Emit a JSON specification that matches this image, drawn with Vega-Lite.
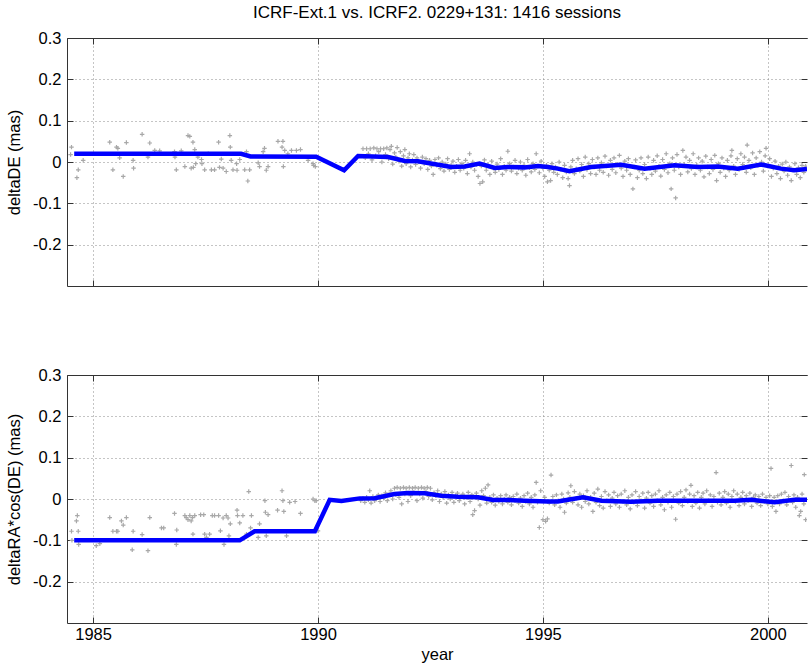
{
  "$schema": "https://vega.github.io/schema/vega-lite/v6.json",
  "background": "white",
  "padding": {"left": 6, "top": 4, "right": 0, "bottom": 0},
  "spacing": 80,
  "config": {
    "view": {"stroke": null},
    "font": "Liberation Sans",
    "axis": {
      "labelFont": "Liberation Sans", "labelFontSize": 16.5, "labelColor": "#000",
      "titleFont": "Liberation Sans", "titleFontSize": 16.5, "titleFontWeight": "normal", "titleColor": "#000",
      "domainColor": "#333", "tickColor": "#333", "gridColor": "#8a8a8a", "gridDash": [1, 3], "gridOpacity": 1,
      "domainWidth": 1, "tickWidth": 1
    }
  },
  "datasets": {
    "dePts": [
      {"year":1984.52,"d":0.036},{"year":1984.5,"d":0.018},{"year":1984.67,"d":-0.019},{"year":1984.64,"d":-0.038},{"year":1984.78,"d":0.004},
      {"year":1985.37,"d":0.048},{"year":1985.44,"d":-0.019},{"year":1985.52,"d":0.036},{"year":1985.55,"d":0.033},{"year":1985.59,"d":0.01},
      {"year":1985.67,"d":-0.035},{"year":1985.74,"d":0.047},{"year":1985.89,"d":0.004},{"year":1985.9,"d":-0.015},{"year":1986.09,"d":0.067},
      {"year":1986.22,"d":0.012},{"year":1986.26,"d":0.046},{"year":1986.37,"d":0.028},{"year":1986.48,"d":0.027},{"year":1986.81,"d":0.025},
      {"year":1986.85,"d":-0.019},{"year":1986.82,"d":0.012},{"year":1986.96,"d":0.027},{"year":1987.04,"d":-0.011},{"year":1987.11,"d":0.064},
      {"year":1987.15,"d":0.062},{"year":1987.18,"d":-0.015},{"year":1987.22,"d":0.048},{"year":1987.23,"d":-0.013},{"year":1987.26,"d":0.03},
      {"year":1987.28,"d":-0.004},{"year":1987.33,"d":0.012},{"year":1987.41,"d":0.006},{"year":1987.42,"d":-0.004},{"year":1987.48,"d":-0.019},
      {"year":1987.56,"d":0.02},{"year":1987.63,"d":-0.019},{"year":1987.7,"d":-0.019},{"year":1987.79,"d":0.048},{"year":1987.81,"d":-0.013},
      {"year":1987.85,"d":0.007},{"year":1987.89,"d":-0.015},{"year":1987.96,"d":-0.023},{"year":1988.04,"d":0.064},{"year":1988.05,"d":0.036},
      {"year":1988.07,"d":0.004},{"year":1988.11,"d":-0.019},{"year":1988.19,"d":-0.004},{"year":1988.2,"d":-0.02},{"year":1988.26,"d":0.006},
      {"year":1988.37,"d":-0.019},{"year":1988.41,"d":0.025},{"year":1988.44,"d":-0.046},{"year":1988.48,"d":-0.019},{"year":1988.67,"d":-0.002},
      {"year":1988.7,"d":-0.011},{"year":1988.78,"d":0.025},{"year":1988.81,"d":0.033},{"year":1988.85,"d":-0.02},{"year":1988.89,"d":-0.011},
      {"year":1989.11,"d":0.05},{"year":1989.2,"d":0.036},{"year":1989.22,"d":0.05},{"year":1989.26,"d":0.028},{"year":1989.23,"d":-0.011},
      {"year":1989.33,"d":0.02},{"year":1989.41,"d":0.028},{"year":1989.52,"d":0.028},{"year":1989.61,"d":0.03},{"year":1989.78,"d":0.004},
      {"year":1989.89,"d":-0.004},{"year":1989.94,"d":-0.011},{"year":1989.9,"d":-0.008},
      {"year":1991.0,"d":0.032},{"year":1991.05,"d":0.01},{"year":1991.08,"d":0.032},{"year":1991.12,"d":0.02},{"year":1991.16,"d":0.032},
      {"year":1991.2,"d":0.005},{"year":1991.24,"d":0.034},{"year":1991.28,"d":0.015},{"year":1991.31,"d":0.032},{"year":1991.35,"d":0.025},
      {"year":1991.39,"d":0.032},{"year":1991.42,"d":0.0},{"year":1991.46,"d":0.032},{"year":1991.5,"d":0.018},{"year":1991.53,"d":0.034},
      {"year":1991.57,"d":0.008},{"year":1991.6,"d":0.03},{"year":1991.63,"d":0.038},{"year":1991.66,"d":-0.005},{"year":1991.7,"d":0.022},
      {"year":1991.73,"d":0.012},{"year":1991.76,"d":0.035},{"year":1991.8,"d":0.002},{"year":1991.83,"d":0.025},{"year":1991.86,"d":-0.01},
      {"year":1991.9,"d":0.015},{"year":1991.93,"d":0.03},{"year":1991.96,"d":-0.004},{"year":1992.0,"d":0.01},{"year":1992.03,"d":0.02},
      {"year":1992.06,"d":-0.012},{"year":1992.1,"d":0.005},{"year":1992.13,"d":0.018},{"year":1992.17,"d":-0.006},{"year":1992.2,"d":0.01},
      {"year":1992.24,"d":0.0},{"year":1992.28,"d":-0.015},{"year":1992.32,"d":0.012},{"year":1992.36,"d":-0.004},{"year":1992.4,"d":0.008},
      {"year":1992.44,"d":-0.018},{"year":1992.48,"d":0.004},{"year":1992.52,"d":-0.01},{"year":1992.56,"d":-0.03},{"year":1992.6,"d":0.006},
      {"year":1992.64,"d":-0.008},{"year":1992.68,"d":0.01},{"year":1992.72,"d":-0.016},{"year":1992.76,"d":0.0},{"year":1992.8,"d":-0.022},
      {"year":1992.84,"d":-0.005},{"year":1992.88,"d":0.008},{"year":1992.92,"d":-0.018},{"year":1992.96,"d":-0.008},{"year":1993.0,"d":0.002},
      {"year":1993.04,"d":-0.025},{"year":1993.08,"d":-0.01},{"year":1993.12,"d":0.006},{"year":1993.16,"d":-0.02},{"year":1993.2,"d":-0.004},
      {"year":1993.24,"d":-0.015},{"year":1993.28,"d":0.004},{"year":1993.32,"d":-0.028},{"year":1993.37,"d":0.02},{"year":1993.4,"d":-0.012},
      {"year":1993.44,"d":0.0},{"year":1993.48,"d":-0.02},{"year":1993.52,"d":-0.006},{"year":1993.56,"d":-0.035},{"year":1993.6,"d":-0.052},
      {"year":1993.63,"d":-0.01},{"year":1993.66,"d":-0.048},{"year":1993.7,"d":0.005},{"year":1993.74,"d":-0.02},{"year":1993.78,"d":-0.008},
      {"year":1993.82,"d":-0.03},{"year":1993.86,"d":0.002},{"year":1993.9,"d":-0.015},{"year":1993.94,"d":-0.025},{"year":1993.98,"d":-0.005},
      {"year":1994.02,"d":-0.018},{"year":1994.06,"d":0.008},{"year":1994.1,"d":-0.03},{"year":1994.14,"d":-0.01},{"year":1994.18,"d":-0.02},
      {"year":1994.22,"d":0.026},{"year":1994.26,"d":-0.004},{"year":1994.3,"d":-0.022},{"year":1994.34,"d":-0.012},{"year":1994.38,"d":0.004},
      {"year":1994.42,"d":-0.028},{"year":1994.46,"d":-0.015},{"year":1994.5,"d":0.0},{"year":1994.54,"d":-0.02},{"year":1994.58,"d":-0.008},
      {"year":1994.62,"d":-0.032},{"year":1994.66,"d":0.006},{"year":1994.7,"d":-0.014},{"year":1994.74,"d":-0.024},{"year":1994.78,"d":-0.004},
      {"year":1994.82,"d":-0.018},{"year":1994.85,"d":0.02},{"year":1994.88,"d":-0.01},{"year":1994.92,"d":-0.026},{"year":1994.96,"d":0.002},
      {"year":1995.0,"d":-0.015},{"year":1995.04,"d":-0.035},{"year":1995.08,"d":-0.008},{"year":1995.1,"d":-0.048},{"year":1995.14,"d":-0.02},
      {"year":1995.17,"d":-0.045},{"year":1995.2,"d":-0.004},{"year":1995.24,"d":-0.025},{"year":1995.28,"d":-0.012},{"year":1995.32,"d":-0.03},
      {"year":1995.36,"d":0.0},{"year":1995.4,"d":-0.018},{"year":1995.44,"d":-0.038},{"year":1995.48,"d":-0.008},{"year":1995.52,"d":-0.024},
      {"year":1995.56,"d":-0.04},{"year":1995.59,"d":-0.057},{"year":1995.62,"d":-0.012},{"year":1995.66,"d":0.004},{"year":1995.7,"d":-0.028},
      {"year":1995.74,"d":-0.016},{"year":1995.78,"d":0.008},{"year":1995.82,"d":-0.022},{"year":1995.86,"d":-0.006},{"year":1995.9,"d":-0.035},
      {"year":1995.94,"d":0.012},{"year":1995.98,"d":-0.018},{"year":1996.02,"d":-0.004},{"year":1996.06,"d":-0.028},{"year":1996.1,"d":0.006},
      {"year":1996.14,"d":-0.012},{"year":1996.18,"d":-0.03},{"year":1996.22,"d":0.01},{"year":1996.26,"d":-0.02},{"year":1996.3,"d":-0.002},
      {"year":1996.34,"d":-0.025},{"year":1996.38,"d":0.014},{"year":1996.42,"d":-0.01},{"year":1996.46,"d":-0.032},{"year":1996.5,"d":0.004},
      {"year":1996.54,"d":-0.018},{"year":1996.58,"d":0.01},{"year":1996.62,"d":-0.026},{"year":1996.66,"d":-0.006},{"year":1996.7,"d":0.016},
      {"year":1996.74,"d":-0.015},{"year":1996.78,"d":-0.035},{"year":1996.82,"d":0.002},{"year":1996.86,"d":-0.02},{"year":1996.9,"d":0.008},
      {"year":1996.94,"d":-0.03},{"year":1997.0,"d":-0.065},{"year":1997.03,"d":-0.012},{"year":1997.06,"d":0.005},{"year":1997.1,"d":-0.038},
      {"year":1997.14,"d":-0.02},{"year":1997.18,"d":0.01},{"year":1997.22,"d":-0.028},{"year":1997.26,"d":-0.006},{"year":1997.3,"d":-0.04},
      {"year":1997.34,"d":0.012},{"year":1997.38,"d":-0.016},{"year":1997.42,"d":-0.03},{"year":1997.46,"d":0.004},{"year":1997.5,"d":-0.022},
      {"year":1997.54,"d":0.015},{"year":1997.58,"d":-0.01},{"year":1997.62,"d":-0.034},{"year":1997.66,"d":0.006},{"year":1997.7,"d":-0.018},
      {"year":1997.74,"d":0.02},{"year":1997.78,"d":-0.026},{"year":1997.82,"d":-0.004},{"year":1997.85,"d":-0.065},{"year":1997.88,"d":0.01},
      {"year":1997.92,"d":-0.02},{"year":1997.95,"d":-0.087},{"year":1997.98,"d":0.018},{"year":1998.02,"d":-0.012},{"year":1998.06,"d":-0.03},
      {"year":1998.11,"d":0.028},{"year":1998.14,"d":-0.006},{"year":1998.18,"d":0.012},{"year":1998.22,"d":-0.024},{"year":1998.26,"d":0.004},
      {"year":1998.3,"d":-0.016},{"year":1998.34,"d":0.02},{"year":1998.38,"d":-0.03},{"year":1998.42,"d":-0.008},{"year":1998.46,"d":0.01},
      {"year":1998.5,"d":-0.02},{"year":1998.54,"d":0.002},{"year":1998.58,"d":-0.036},{"year":1998.62,"d":0.014},{"year":1998.66,"d":-0.012},
      {"year":1998.7,"d":-0.028},{"year":1998.74,"d":0.006},{"year":1998.78,"d":-0.018},{"year":1998.82,"d":0.016},{"year":1998.86,"d":-0.045},
      {"year":1998.9,"d":-0.004},{"year":1998.94,"d":-0.025},{"year":1998.98,"d":0.01},{"year":1999.02,"d":-0.015},{"year":1999.06,"d":-0.035},
      {"year":1999.1,"d":0.004},{"year":1999.14,"d":-0.02},{"year":1999.18,"d":0.015},{"year":1999.2,"d":0.028},{"year":1999.24,"d":-0.01},
      {"year":1999.28,"d":-0.03},{"year":1999.32,"d":0.008},{"year":1999.36,"d":-0.018},{"year":1999.4,"d":0.02},{"year":1999.44,"d":-0.006},
      {"year":1999.48,"d":0.012},{"year":1999.52,"d":-0.025},{"year":1999.54,"d":0.041},{"year":1999.58,"d":0.004},{"year":1999.62,"d":-0.014},
      {"year":1999.66,"d":0.022},{"year":1999.7,"d":-0.03},{"year":1999.74,"d":0.01},{"year":1999.78,"d":-0.008},{"year":1999.82,"d":0.025},
      {"year":1999.86,"d":0.0},{"year":1999.9,"d":-0.022},{"year":1999.94,"d":0.015},{"year":1999.96,"d":0.033},{"year":2000.0,"d":-0.01},
      {"year":2000.04,"d":0.008},{"year":2000.08,"d":-0.035},{"year":2000.12,"d":-0.015},{"year":2000.16,"d":0.002},{"year":2000.2,"d":-0.028},
      {"year":2000.24,"d":-0.01},{"year":2000.28,"d":-0.04},{"year":2000.32,"d":-0.005},{"year":2000.36,"d":-0.022},{"year":2000.4,"d":0.0},
      {"year":2000.44,"d":-0.032},{"year":2000.48,"d":-0.012},{"year":2000.52,"d":-0.045},{"year":2000.56,"d":-0.02},{"year":2000.6,"d":-0.004},
      {"year":2000.64,"d":-0.03},{"year":2000.68,"d":-0.014},{"year":2000.72,"d":-0.038},{"year":2000.76,"d":-0.008},{"year":2000.8,"d":-0.025},
      {"year":2000.84,"d":-0.01}
    ],
    "raPts": [
      {"year":1984.52,"d":-0.078},{"year":1984.53,"d":-0.1},{"year":1984.63,"d":-0.053},{"year":1984.65,"d":-0.04},{"year":1984.67,"d":-0.078},
      {"year":1984.68,"d":-0.11},{"year":1985.07,"d":-0.113},{"year":1985.15,"d":-0.108},{"year":1985.37,"d":-0.045},{"year":1985.44,"d":-0.078},
      {"year":1985.52,"d":-0.078},{"year":1985.55,"d":-0.078},{"year":1985.63,"d":-0.053},{"year":1985.67,"d":-0.063},{"year":1985.74,"d":-0.045},
      {"year":1985.87,"d":-0.123},{"year":1985.89,"d":-0.078},{"year":1986.09,"d":-0.086},{"year":1986.22,"d":-0.125},{"year":1986.26,"d":-0.045},
      {"year":1986.52,"d":-0.07},{"year":1986.57,"d":-0.07},{"year":1986.81,"d":-0.035},{"year":1986.85,"d":-0.11},{"year":1986.86,"d":-0.075},
      {"year":1987.04,"d":-0.04},{"year":1987.07,"d":-0.045},{"year":1987.11,"d":-0.05},{"year":1987.15,"d":-0.04},{"year":1987.18,"d":-0.053},
      {"year":1987.21,"d":-0.045},{"year":1987.26,"d":-0.04},{"year":1987.22,"d":-0.085},{"year":1987.39,"d":-0.038},{"year":1987.46,"d":-0.038},
      {"year":1987.48,"d":-0.085},{"year":1987.52,"d":-0.093},{"year":1987.59,"d":-0.085},{"year":1987.65,"d":-0.04},{"year":1987.7,"d":-0.04},
      {"year":1987.79,"d":-0.04},{"year":1987.83,"d":-0.077},{"year":1987.89,"d":-0.046},{"year":1987.91,"d":-0.11},{"year":1987.96,"d":-0.04},
      {"year":1988.0,"d":-0.046},{"year":1988.02,"d":-0.089},{"year":1988.05,"d":-0.06},{"year":1988.2,"d":-0.027},{"year":1988.21,"d":-0.04},
      {"year":1988.26,"d":-0.058},{"year":1988.33,"d":-0.04},{"year":1988.41,"d":-0.085},{"year":1988.46,"d":0.018},{"year":1988.52,"d":-0.04},
      {"year":1988.5,"d":-0.07},{"year":1988.67,"d":-0.093},{"year":1988.7,"d":-0.06},{"year":1988.82,"d":-0.004},{"year":1988.83,"d":-0.032},
      {"year":1988.85,"d":-0.089},{"year":1988.89,"d":-0.038},{"year":1989.1,"d":-0.027},{"year":1989.2,"d":0.02},{"year":1989.22,"d":-0.004},
      {"year":1989.24,"d":-0.03},{"year":1989.3,"d":-0.089},{"year":1989.37,"d":-0.008},{"year":1989.49,"d":-0.006},{"year":1989.61,"d":-0.035},
      {"year":1989.89,"d":0.0},{"year":1989.96,"d":-0.004},{"year":1989.93,"d":-0.004},{"year":1990.0,"d":-0.077},
      {"year":1990.95,"d":-0.004},{"year":1991.0,"d":0.002},{"year":1991.04,"d":-0.008},{"year":1991.08,"d":0.004},{"year":1991.12,"d":-0.002},
      {"year":1991.15,"d":0.02},{"year":1991.18,"d":-0.01},{"year":1991.22,"d":0.006},{"year":1991.26,"d":-0.004},{"year":1991.3,"d":0.0},
      {"year":1991.34,"d":0.01},{"year":1991.38,"d":-0.006},{"year":1991.42,"d":0.008},{"year":1991.46,"d":0.002},{"year":1991.5,"d":0.015},
      {"year":1991.54,"d":-0.004},{"year":1991.58,"d":0.012},{"year":1991.62,"d":0.02},{"year":1991.66,"d":0.0},{"year":1991.7,"d":0.026},
      {"year":1991.73,"d":0.01},{"year":1991.76,"d":0.028},{"year":1991.8,"d":0.004},{"year":1991.83,"d":0.026},{"year":1991.86,"d":-0.012},
      {"year":1991.9,"d":0.028},{"year":1991.93,"d":0.012},{"year":1991.96,"d":0.026},{"year":1992.0,"d":-0.006},{"year":1992.03,"d":0.028},
      {"year":1992.06,"d":0.008},{"year":1992.1,"d":0.026},{"year":1992.13,"d":0.016},{"year":1992.16,"d":0.028},{"year":1992.2,"d":-0.004},
      {"year":1992.23,"d":0.026},{"year":1992.26,"d":0.012},{"year":1992.3,"d":0.028},{"year":1992.33,"d":0.002},{"year":1992.36,"d":0.026},
      {"year":1992.4,"d":0.018},{"year":1992.43,"d":0.028},{"year":1992.46,"d":0.006},{"year":1992.5,"d":0.026},{"year":1992.54,"d":-0.002},
      {"year":1992.58,"d":0.015},{"year":1992.62,"d":0.008},{"year":1992.66,"d":0.02},{"year":1992.7,"d":-0.006},{"year":1992.74,"d":0.012},
      {"year":1992.78,"d":0.004},{"year":1992.82,"d":0.018},{"year":1992.86,"d":-0.01},{"year":1992.9,"d":0.01},{"year":1992.94,"d":0.0},
      {"year":1992.98,"d":0.016},{"year":1993.02,"d":-0.008},{"year":1993.06,"d":0.008},{"year":1993.1,"d":0.014},{"year":1993.14,"d":-0.004},
      {"year":1993.18,"d":0.006},{"year":1993.22,"d":0.012},{"year":1993.26,"d":-0.012},{"year":1993.3,"d":0.004},{"year":1993.34,"d":0.016},
      {"year":1993.38,"d":-0.006},{"year":1993.42,"d":0.01},{"year":1993.44,"d":-0.038},{"year":1993.48,"d":-0.028},{"year":1993.52,"d":0.014},
      {"year":1993.56,"d":0.0},{"year":1993.6,"d":-0.015},{"year":1993.64,"d":0.02},{"year":1993.68,"d":0.008},{"year":1993.72,"d":0.026},
      {"year":1993.75,"d":-0.01},{"year":1993.78,"d":0.034},{"year":1993.82,"d":0.004},{"year":1993.86,"d":-0.008},{"year":1993.9,"d":0.01},
      {"year":1993.94,"d":-0.015},{"year":1993.98,"d":0.002},{"year":1994.02,"d":-0.006},{"year":1994.06,"d":0.008},{"year":1994.1,"d":-0.012},
      {"year":1994.14,"d":0.0},{"year":1994.18,"d":0.01},{"year":1994.22,"d":-0.008},{"year":1994.26,"d":0.004},{"year":1994.3,"d":-0.014},
      {"year":1994.34,"d":0.006},{"year":1994.38,"d":-0.004},{"year":1994.42,"d":0.012},{"year":1994.46,"d":-0.01},{"year":1994.5,"d":0.002},
      {"year":1994.54,"d":-0.018},{"year":1994.58,"d":0.008},{"year":1994.62,"d":-0.006},{"year":1994.66,"d":0.014},{"year":1994.7,"d":-0.012},
      {"year":1994.74,"d":0.004},{"year":1994.78,"d":-0.02},{"year":1994.82,"d":0.01},{"year":1994.85,"d":0.04},{"year":1994.88,"d":-0.008},
      {"year":1994.92,"d":-0.069},{"year":1994.95,"d":0.02},{"year":1995.0,"d":-0.05},{"year":1995.04,"d":0.004},{"year":1995.06,"d":-0.054},
      {"year":1995.1,"d":-0.048},{"year":1995.14,"d":-0.01},{"year":1995.18,"d":0.058},{"year":1995.22,"d":0.006},{"year":1995.26,"d":-0.014},
      {"year":1995.3,"d":0.01},{"year":1995.34,"d":-0.004},{"year":1995.38,"d":-0.02},{"year":1995.42,"d":0.012},{"year":1995.46,"d":0.0},
      {"year":1995.48,"d":-0.032},{"year":1995.52,"d":-0.01},{"year":1995.56,"d":0.015},{"year":1995.6,"d":0.004},{"year":1995.62,"d":0.032},
      {"year":1995.66,"d":-0.008},{"year":1995.7,"d":0.018},{"year":1995.74,"d":0.002},{"year":1995.78,"d":-0.014},{"year":1995.82,"d":0.012},
      {"year":1995.86,"d":-0.02},{"year":1995.9,"d":0.008},{"year":1995.94,"d":-0.006},{"year":1995.98,"d":0.02},{"year":1996.02,"d":-0.012},
      {"year":1996.06,"d":0.004},{"year":1996.11,"d":-0.03},{"year":1996.14,"d":0.014},{"year":1996.18,"d":-0.008},{"year":1996.22,"d":0.024},
      {"year":1996.26,"d":-0.016},{"year":1996.3,"d":0.006},{"year":1996.34,"d":-0.022},{"year":1996.38,"d":0.018},{"year":1996.42,"d":-0.004},
      {"year":1996.46,"d":0.01},{"year":1996.5,"d":-0.018},{"year":1996.54,"d":0.002},{"year":1996.58,"d":0.016},{"year":1996.62,"d":-0.012},
      {"year":1996.66,"d":0.008},{"year":1996.7,"d":-0.02},{"year":1996.74,"d":0.012},{"year":1996.78,"d":-0.006},{"year":1996.82,"d":0.02},
      {"year":1996.86,"d":-0.014},{"year":1996.9,"d":0.004},{"year":1996.94,"d":-0.024},{"year":1996.98,"d":0.01},{"year":1997.02,"d":-0.008},
      {"year":1997.06,"d":0.018},{"year":1997.1,"d":-0.016},{"year":1997.14,"d":0.006},{"year":1997.18,"d":-0.004},{"year":1997.22,"d":0.014},
      {"year":1997.26,"d":-0.022},{"year":1997.3,"d":0.002},{"year":1997.34,"d":0.016},{"year":1997.38,"d":-0.01},{"year":1997.42,"d":0.008},
      {"year":1997.46,"d":-0.018},{"year":1997.5,"d":0.012},{"year":1997.54,"d":-0.004},{"year":1997.58,"d":0.02},{"year":1997.62,"d":-0.014},
      {"year":1997.66,"d":0.004},{"year":1997.7,"d":-0.026},{"year":1997.74,"d":0.01},{"year":1997.78,"d":-0.008},{"year":1997.82,"d":0.016},
      {"year":1997.86,"d":-0.02},{"year":1997.9,"d":0.006},{"year":1997.95,"d":-0.049},{"year":1997.98,"d":0.012},{"year":1998.02,"d":-0.01},
      {"year":1998.06,"d":0.018},{"year":1998.1,"d":-0.016},{"year":1998.14,"d":0.004},{"year":1998.18,"d":0.022},{"year":1998.22,"d":-0.006},
      {"year":1998.26,"d":0.012},{"year":1998.29,"d":0.033},{"year":1998.32,"d":-0.018},{"year":1998.36,"d":0.008},{"year":1998.4,"d":-0.01},
      {"year":1998.44,"d":0.016},{"year":1998.48,"d":-0.022},{"year":1998.52,"d":0.004},{"year":1998.56,"d":0.014},{"year":1998.6,"d":-0.012},
      {"year":1998.64,"d":0.02},{"year":1998.68,"d":-0.004},{"year":1998.72,"d":0.01},{"year":1998.76,"d":-0.018},{"year":1998.8,"d":0.006},
      {"year":1998.85,"d":0.064},{"year":1998.88,"d":-0.008},{"year":1998.92,"d":0.014},{"year":1998.96,"d":-0.014},{"year":1999.0,"d":0.004},
      {"year":1999.04,"d":0.018},{"year":1999.08,"d":-0.01},{"year":1999.12,"d":0.012},{"year":1999.16,"d":-0.02},{"year":1999.2,"d":0.006},
      {"year":1999.24,"d":0.02},{"year":1999.28,"d":-0.006},{"year":1999.32,"d":0.012},{"year":1999.36,"d":-0.016},{"year":1999.4,"d":0.004},
      {"year":1999.44,"d":0.016},{"year":1999.48,"d":-0.012},{"year":1999.52,"d":0.008},{"year":1999.56,"d":-0.004},{"year":1999.6,"d":0.014},
      {"year":1999.64,"d":-0.018},{"year":1999.68,"d":0.004},{"year":1999.72,"d":0.01},{"year":1999.76,"d":-0.01},{"year":1999.8,"d":0.006},
      {"year":1999.84,"d":-0.016},{"year":1999.88,"d":0.012},{"year":1999.92,"d":-0.006},{"year":1999.96,"d":0.004},{"year":2000.0,"d":-0.012},
      {"year":2000.04,"d":0.008},{"year":2000.07,"d":0.074},{"year":2000.1,"d":-0.018},{"year":2000.14,"d":0.004},{"year":2000.18,"d":-0.03},
      {"year":2000.22,"d":0.008},{"year":2000.26,"d":-0.012},{"year":2000.3,"d":0.012},{"year":2000.34,"d":-0.004},{"year":2000.38,"d":0.016},
      {"year":2000.42,"d":-0.014},{"year":2000.46,"d":0.006},{"year":2000.52,"d":0.081},{"year":2000.55,"d":-0.008},{"year":2000.58,"d":0.01},
      {"year":2000.62,"d":-0.02},{"year":2000.66,"d":0.004},{"year":2000.7,"d":-0.04},{"year":2000.73,"d":-0.03},{"year":2000.76,"d":0.012},
      {"year":2000.8,"d":-0.012},{"year":2000.81,"d":0.059},{"year":2000.84,"d":-0.05}
    ],
    "deLine": [
      {"year":1984.58,"d":0.02},{"year":1988.29,"d":0.02},{"year":1988.5,"d":0.0136},{"year":1989.96,"d":0.013},{"year":1990.58,"d":-0.02},
      {"year":1990.89,"d":0.0145},{"year":1991.56,"d":0.012},{"year":1991.93,"d":0.0024},{"year":1992.22,"d":0.002},{"year":1992.96,"d":-0.012},
      {"year":1993.26,"d":-0.011},{"year":1993.59,"d":-0.004},{"year":1993.93,"d":-0.0145},{"year":1994.22,"d":-0.012},{"year":1994.59,"d":-0.013},
      {"year":1994.89,"d":-0.0097},{"year":1995.11,"d":-0.012},{"year":1995.33,"d":-0.016},{"year":1995.59,"d":-0.022},{"year":1996.07,"d":-0.012},
      {"year":1996.74,"d":-0.0065},{"year":1997.26,"d":-0.016},{"year":1997.93,"d":-0.008},{"year":1998.44,"d":-0.012},{"year":1998.89,"d":-0.011},
      {"year":1999.33,"d":-0.016},{"year":1999.85,"d":-0.006},{"year":2000.29,"d":-0.016},{"year":2000.59,"d":-0.02},{"year":2000.87,"d":-0.017}
    ],
    "raLine": [
      {"year":1984.58,"d":-0.1},{"year":1988.26,"d":-0.1},{"year":1988.59,"d":-0.078},{"year":1989.93,"d":-0.078},{"year":1990.26,"d":-0.002},
      {"year":1990.52,"d":-0.005},{"year":1990.93,"d":0.0015},{"year":1991.26,"d":0.002},{"year":1991.7,"d":0.012},{"year":1992.0,"d":0.0145},
      {"year":1992.37,"d":0.0137},{"year":1992.74,"d":0.008},{"year":1993.11,"d":0.0056},{"year":1993.56,"d":0.004},{"year":1993.89,"d":-0.0024},
      {"year":1994.22,"d":-0.0024},{"year":1994.59,"d":-0.004},{"year":1995.11,"d":-0.006},{"year":1995.33,"d":-0.006},{"year":1995.56,"d":-0.002},
      {"year":1995.89,"d":0.004},{"year":1996.3,"d":-0.004},{"year":1996.96,"d":-0.0065},{"year":1997.56,"d":-0.004},{"year":1998.44,"d":-0.004},
      {"year":1999.26,"d":-0.004},{"year":1999.63,"d":-0.002},{"year":2000.15,"d":-0.008},{"year":2000.59,"d":-0.002},{"year":2000.87,"d":-0.002}
    ]
  },
  "vconcat": [
    {
      "width": 740, "height": 248,
      "title": {"text": "ICRF-Ext.1 vs. ICRF2. 0229+131: 1416 sessions", "frame": "group", "anchor": "middle", "font": "Liberation Sans", "fontSize": 17, "fontWeight": "normal", "color": "#000", "offset": 8},
      "layer": [
        {
          "data": {"name": "dePts"},
          "mark": {"type": "point", "shape": "M-1,0L1,0M0,-1L0,1", "filled": false, "stroke": "#a8a8a8", "strokeWidth": 1.2, "size": 20, "opacity": 1, "clip": true},
          "encoding": {
            "x": {"field": "year", "type": "quantitative", "scale": {"domain": [1984.42, 2000.87], "nice": false, "zero": false},
                  "axis": {"orient": "bottom", "values": [1985, 1990, 1995, 2000], "labels": false, "title": null, "grid": true, "tickSize": -6}},
            "y": {"field": "d", "type": "quantitative", "scale": {"domain": [-0.3, 0.3], "nice": false, "zero": false},
                  "axis": {"orient": "left", "values": [-0.2, -0.1, 0, 0.1, 0.2, 0.3], "labelExpr": "datum.value == 0 ? '0' : (datum.value < 0 ? '-' : '') + format(abs(datum.value), '.1f')", "grid": true, "tickSize": -6, "labelPadding": 12, "title": "deltaDE (mas)", "titlePadding": 10}}
          }
        },
        {
          "data": {"name": "deLine"},
          "mark": {"type": "line", "color": "#0000ff", "strokeWidth": 4.5, "clip": true},
          "encoding": {
            "x": {"field": "year", "type": "quantitative",
                  "axis": {"orient": "top", "values": [1985, 1990, 1995, 2000], "labels": false, "title": null, "grid": false, "tickSize": -6}},
            "y": {"field": "d", "type": "quantitative",
                  "axis": {"orient": "right", "values": [-0.2, -0.1, 0, 0.1, 0.2, 0.3], "labels": false, "title": null, "grid": false, "tickSize": -6, "domain": false}}
          }
        }
      ],
      "resolve": {"axis": {"x": "independent", "y": "independent"}}
    },
    {
      "width": 740, "height": 248,
      "layer": [
        {
          "data": {"name": "raPts"},
          "mark": {"type": "point", "shape": "M-1,0L1,0M0,-1L0,1", "filled": false, "stroke": "#a8a8a8", "strokeWidth": 1.2, "size": 20, "opacity": 1, "clip": true},
          "encoding": {
            "x": {"field": "year", "type": "quantitative", "scale": {"domain": [1984.42, 2000.87], "nice": false, "zero": false},
                  "axis": {"orient": "bottom", "values": [1985, 1990, 1995, 2000], "format": "d", "grid": true, "tickSize": -6, "labelPadding": 9.5, "title": "year", "titlePadding": 3}},
            "y": {"field": "d", "type": "quantitative", "scale": {"domain": [-0.3, 0.3], "nice": false, "zero": false},
                  "axis": {"orient": "left", "values": [-0.2, -0.1, 0, 0.1, 0.2, 0.3], "labelExpr": "datum.value == 0 ? '0' : (datum.value < 0 ? '-' : '') + format(abs(datum.value), '.1f')", "grid": true, "tickSize": -6, "labelPadding": 12, "title": "deltaRA*cos(DE) (mas)", "titlePadding": 10}}
          }
        },
        {
          "data": {"name": "raLine"},
          "mark": {"type": "line", "color": "#0000ff", "strokeWidth": 4.5, "clip": true},
          "encoding": {
            "x": {"field": "year", "type": "quantitative",
                  "axis": {"orient": "top", "values": [1985, 1990, 1995, 2000], "labels": false, "title": null, "grid": false, "tickSize": -6}},
            "y": {"field": "d", "type": "quantitative",
                  "axis": {"orient": "right", "values": [-0.2, -0.1, 0, 0.1, 0.2, 0.3], "labels": false, "title": null, "grid": false, "tickSize": -6, "domain": false}}
          }
        }
      ],
      "resolve": {"axis": {"x": "independent", "y": "independent"}}
    }
  ]
}
